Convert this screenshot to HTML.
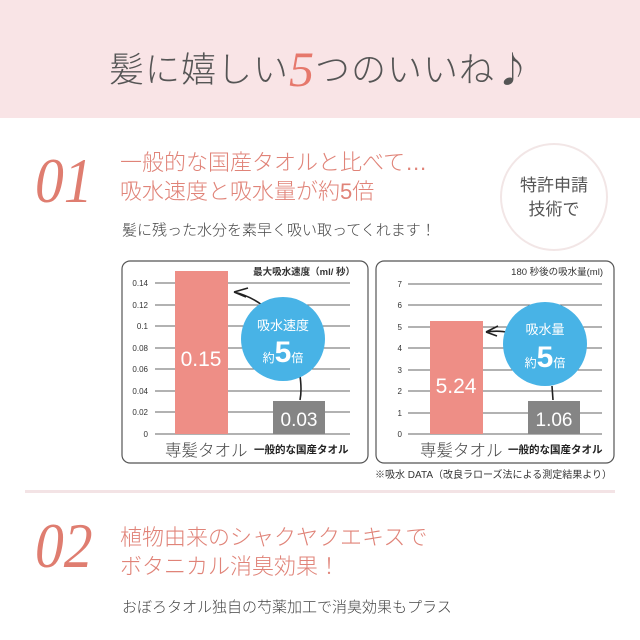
<!DOCTYPE html>
<html><head><meta charset="utf-8"><style>
body{margin:0;width:640px;height:640px;background:#fff;position:relative;overflow:hidden;font-family:"Liberation Sans","Noto Sans CJK JP",sans-serif;}
.a{position:absolute;white-space:nowrap;}
.num{font-family:"Liberation Serif",serif;font-style:italic;color:#df7d70;font-size:64px;line-height:1;transform:scaleX(0.9);transform-origin:left;}
.h{color:#e08378;font-size:22px;line-height:29px;}
.s{color:#444;font-size:15px;font-weight:300;}
</style></head><body>
<div class="a" style="left:0;top:0;width:640px;height:118px;background:#f9e4e6"></div>
<div class="a" style="left:0;top:40px;width:640px;text-align:center;color:#555;font-size:35px;letter-spacing:1px;font-family:'Noto Sans CJK JP',sans-serif;font-weight:300">髪に嬉しい<span style="font-family:'Liberation Serif',serif;font-style:italic;color:#e6786c;font-size:50px;vertical-align:-4px">5</span>つのいいね♪</div>

<div class="a num" style="left:35px;top:149px">01</div>
<div class="a h" style="left:120px;top:148px;font-weight:300">一般的な国産タオルと比べて…<br>吸水速度と吸水量が約5倍</div>
<div class="a s" style="left:122px;top:219px">髪に残った水分を素早く吸い取ってくれます！</div>
<div class="a" style="left:500px;top:143px;width:108px;height:108px;border-radius:50%;border:2px solid #f2e6e6;box-sizing:border-box"></div>
<div class="a" style="left:500px;top:174px;width:108px;text-align:center;color:#555;font-size:17px;line-height:24px">特許申請<br>技術で</div>

<svg class="a" style="left:0;top:0" width="640" height="640" font-family="Liberation Sans, Noto Sans CJK JP, sans-serif">
<rect x="122" y="261" width="246" height="202" rx="8" fill="#fff" stroke="#555" stroke-width="1.2"/>
<g stroke="#333" stroke-width="0.8">
<line x1="155" x2="350" y1="283" y2="283"/><line x1="155" x2="350" y1="305" y2="305"/><line x1="155" x2="350" y1="326" y2="326"/><line x1="155" x2="350" y1="348" y2="348"/><line x1="155" x2="350" y1="369" y2="369"/><line x1="155" x2="350" y1="391" y2="391"/><line x1="155" x2="350" y1="412" y2="412"/><line x1="155" x2="350" y1="434" y2="434"/>
</g>
<g font-size="8" fill="#333" text-anchor="end">
<text x="148" y="286">0.14</text><text x="148" y="308">0.12</text><text x="148" y="329">0.1</text><text x="148" y="351">0.08</text><text x="148" y="372">0.06</text><text x="148" y="394">0.04</text><text x="148" y="415">0.02</text><text x="148" y="437">0</text>
</g>
<text x="355" y="275" font-size="9.5" font-weight="bold" fill="#333" text-anchor="end">最大吸水速度（ml/ 秒）</text>
<rect x="175" y="271" width="53" height="163" fill="#ee8e86"/>
<rect x="273" y="401" width="52" height="33" fill="#858585"/>
<text x="201" y="366" font-size="21" fill="#fff" text-anchor="middle">0.15</text>
<text x="299" y="426" font-size="19" fill="#fff" text-anchor="middle">0.03</text>
<text x="165" y="456" font-size="16.5" font-weight="300" fill="#444">専髪タオル</text>
<text x="254" y="453" font-size="10.5" font-weight="bold" fill="#222">一般的な国産タオル</text>
<path d="M262 305 Q250 296 234 292 M234 292 L248 288 M234 292 L246 297" stroke="#222" stroke-width="1.6" fill="none"/>
<path d="M300 376 Q302 390 300 400" stroke="#222" stroke-width="1.6" fill="none"/>
<circle cx="283" cy="339" r="42" fill="#48b3e6"/>
<text x="283" y="330" font-size="13" fill="#fff" text-anchor="middle">吸水速度</text>
<text x="283" y="362" fill="#fff" text-anchor="middle"><tspan font-size="12">約</tspan><tspan font-size="30" font-weight="bold">5</tspan><tspan font-size="12">倍</tspan></text>

<rect x="376" y="261" width="238" height="202" rx="8" fill="#fff" stroke="#555" stroke-width="1.2"/>
<g stroke="#333" stroke-width="0.8">
<line x1="408" x2="602" y1="284" y2="284"/><line x1="408" x2="602" y1="305" y2="305"/><line x1="408" x2="602" y1="327" y2="327"/><line x1="408" x2="602" y1="348" y2="348"/><line x1="408" x2="602" y1="370" y2="370"/><line x1="408" x2="602" y1="391" y2="391"/><line x1="408" x2="602" y1="413" y2="413"/><line x1="408" x2="602" y1="434" y2="434"/>
</g>
<g font-size="8" fill="#333" text-anchor="end">
<text x="402" y="287">7</text><text x="402" y="308">6</text><text x="402" y="330">5</text><text x="402" y="351">4</text><text x="402" y="373">3</text><text x="402" y="394">2</text><text x="402" y="416">1</text><text x="402" y="437">0</text>
</g>
<text x="603" y="275" font-size="9.5" fill="#333" text-anchor="end">180 秒後の吸水量(ml)</text>
<rect x="430" y="321" width="53" height="113" fill="#ee8e86"/>
<rect x="528" y="401" width="52" height="33" fill="#858585"/>
<text x="456" y="393" font-size="21" fill="#fff" text-anchor="middle">5.24</text>
<text x="554" y="426" font-size="19" fill="#fff" text-anchor="middle">1.06</text>
<text x="420" y="456" font-size="16.5" font-weight="300" fill="#444">専髪タオル</text>
<text x="508" y="453" font-size="10.5" font-weight="bold" fill="#222">一般的な国産タオル</text>
<path d="M510 333 Q500 330 486 332 M486 332 L498 326 M486 332 L497 336" stroke="#222" stroke-width="1.6" fill="none"/>
<path d="M552 386 L553 400" stroke="#222" stroke-width="1.6" fill="none"/>
<circle cx="545" cy="344" r="42" fill="#48b3e6"/>
<text x="545" y="334" font-size="13" fill="#fff" text-anchor="middle">吸水量</text>
<text x="545" y="367" fill="#fff" text-anchor="middle"><tspan font-size="12">約</tspan><tspan font-size="30" font-weight="bold">5</tspan><tspan font-size="12">倍</tspan></text>
<text x="612" y="478" font-size="10" fill="#333" text-anchor="end">※吸水 DATA（改良ラローズ法による測定結果より）</text>
<rect x="25" y="490" width="590" height="3" fill="#f3e3e5"/>
</svg>

<div class="a num" style="left:35px;top:514px">02</div>
<div class="a h" style="left:120px;top:523px;font-weight:300">植物由来のシャクヤクエキスで<br>ボタニカル消臭効果！</div>
<div class="a s" style="left:122px;top:596px">おぼろタオル独自の芍薬加工で消臭効果もプラス</div>
</body></html>
